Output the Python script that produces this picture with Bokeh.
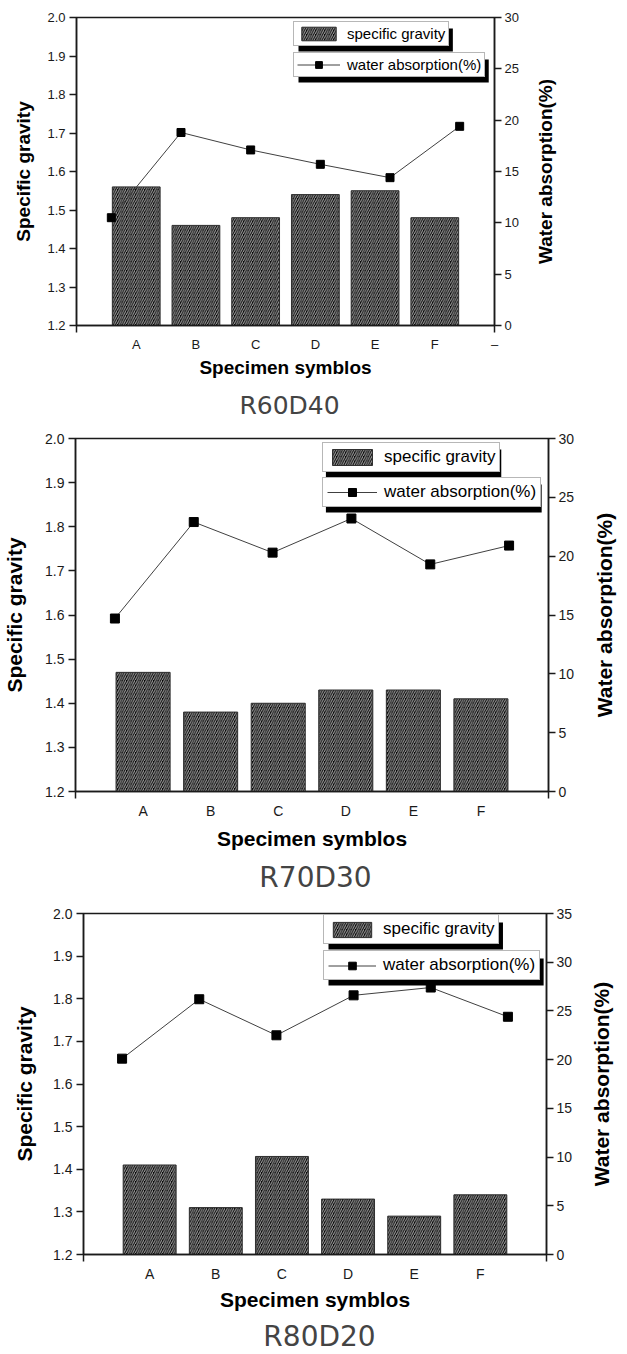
import math
from bokeh.plotting import figure
from bokeh.models import (Range1d, LinearAxis, FixedTicker, Legend, LegendItem, Label, BoxAnnotation)
from bokeh.layouts import column, row
from bokeh.embed import file_html
from bokeh.resources import INLINE

# ---------------- data ----------------
categories = ["A", "B", "C", "D", "E", "F"]
gravity_ticks = [1.2, 1.3, 1.4, 1.5, 1.6, 1.7, 1.8, 1.9, 2.0]
gravity_tick_labels = ["1.2", "1.3", "1.4", "1.5", "1.6", "1.7", "1.8", "1.9", "2.0"]
absorption_ticks_30 = [0, 5, 10, 15, 20, 25, 30]
absorption_ticks_35 = [0, 5, 10, 15, 20, 25, 30, 35]

r60d40_gravity = [1.56, 1.46, 1.48, 1.54, 1.55, 1.48]
r60d40_absorption = [10.5, 18.8, 17.1, 15.7, 14.4, 19.4]
r70d30_gravity = [1.47, 1.38, 1.40, 1.43, 1.43, 1.41]
r70d30_absorption = [14.7, 22.9, 20.3, 23.2, 19.3, 20.9]
r80d20_gravity = [1.41, 1.31, 1.43, 1.33, 1.29, 1.34]
r80d20_absorption = [20.1, 26.2, 22.5, 26.6, 27.4, 24.4]

panel_titles = ["R60D40", "R70D30", "R80D20"]
x_title = "Specimen symblos"
y_title = "Specific gravity"
y2_title = "Water absorption(%)"
legend_labels = ["specific gravity", "water absorption(%)"]
legend_label_em = [6.557, 8.949]   # text width in em (Liberation Sans) for shadow sizing
extra_end_label = "\u2013"

FONT = "Liberation Sans"
INK = "#1a1a1a"
TOTAL_W = 627


def blank_fig(width, height, top=0, bottom=0):
    f = figure(width=width, height=height, output_backend="svg", toolbar_location=None,
               x_range=Range1d(0, width), y_range=Range1d(0, height - top - bottom),
               x_axis_location=None, y_axis_location=None,
               min_border_left=0, min_border_right=0,
               min_border_top=top, min_border_bottom=bottom)
    f.grid.visible = False
    f.outline_line_color = None
    f.background_fill_color = "white"
    f.border_fill_color = "white"
    return f


def make_panel(name, gravity, absorption, wa_ticks, cfg, end_label=None):
    n = len(categories)
    pos = list(range(1, n + 1))
    W = cfg["w"]
    fw = W - cfg["l"] - cfg["r"]
    fh = cfg["h"] - cfg["t"] - cfg["b"]
    x0, x1 = 0, n + 1
    y0, y1 = gravity_ticks[0], gravity_ticks[-1]
    sx = (x1 - x0) / fw
    sy = (y1 - y0) / fh
    p = figure(width=W, height=cfg["h"], output_backend="svg", toolbar_location=None,
               x_range=Range1d(x0, x1), y_range=Range1d(y0, y1),
               min_border_left=cfg["l"], min_border_right=cfg["r"],
               min_border_top=cfg["t"], min_border_bottom=cfg["b"])
    p.extra_x_ranges = {"line": Range1d(0.5, n + 0.5)}
    p.extra_y_ranges = {"wa": Range1d(wa_ticks[0], wa_ticks[-1])}
    p.xgrid.visible = False
    p.ygrid.visible = False
    p.outline_line_color = INK
    p.outline_line_width = 1.5
    p.background_fill_color = "white"
    p.border_fill_color = "white"

    bars = p.vbar(x=pos, top=gravity, bottom=y0, width=0.8,
                  fill_color="#050505", line_color="#303030", line_width=1,
                  hatch_pattern="/", hatch_color="#a6a6a6", hatch_scale=4.5, hatch_weight=1)
    line = p.line(pos, absorption, x_range_name="line", y_range_name="wa",
                  line_color="#404040", line_width=1)
    marks = p.scatter(pos, absorption, x_range_name="line", y_range_name="wa",
                      marker="square", size=cfg["ms"], fill_color="black", line_color="black")

    # axes
    fs = cfg["tick_fs"]
    ax = p.xaxis[0]
    ticks = pos + ([n + 1] if end_label else [])
    overrides = {i: c for i, c in zip(pos, categories)}
    if end_label:
        overrides[n + 1] = end_label
    ax.ticker = FixedTicker(ticks=ticks, minor_ticks=[0, n + 1])
    ax.major_label_overrides = overrides
    ax.major_tick_line_color = None
    ax.major_tick_out = 7
    ax.major_tick_in = 0
    ax.minor_tick_out = 7
    ax.minor_tick_in = 0
    ax.major_label_standoff = 4
    ax.axis_label = x_title
    ax.axis_label_standoff = cfg["xls"]

    ay = p.yaxis[0]
    ay.ticker = FixedTicker(ticks=gravity_ticks, minor_ticks=[])
    ay.major_label_overrides = {t: l for t, l in zip(gravity_ticks, gravity_tick_labels)}
    ay.major_tick_out = 7
    ay.major_tick_in = 0
    ay.major_label_standoff = 4
    ay.axis_label = y_title
    ay.axis_label_standoff = cfg["yls"]

    ar = LinearAxis(y_range_name="wa", ticker=FixedTicker(ticks=wa_ticks, minor_ticks=[]))
    ar.major_tick_out = 7
    ar.major_tick_in = 0
    ar.major_label_standoff = 3
    p.add_layout(ar, "right")

    for a in (ax, ay, ar):
        a.axis_line_color = INK
        a.axis_line_width = 1.5
        a.major_tick_line_width = 1.5
        a.minor_tick_line_width = 1.5
        a.minor_tick_line_color = INK if a is ax else None
        if a is not ax:
            a.major_tick_line_color = INK
        a.major_label_text_font = FONT
        a.major_label_text_font_size = f"{fs}px"
        a.major_label_text_color = INK
        a.axis_label_text_font = FONT
        a.axis_label_text_font_style = "bold"
        a.axis_label_text_font_size = f"{cfg['lab_fs']}px"
        a.axis_label_text_color = "black"

    # legends: black drop-shadow boxes first, then the white legend boxes
    items = [[bars], [line, marks]]
    pad, gw, gh, sh, lfs = cfg["pad"], cfg["gw"], cfg["gh"], cfg["sh"], cfg["leg_fs"]
    for k in range(len(legend_labels)):
        lx, ly = cfg["leg"][k]
        w = 2 * pad + gw + 7 + legend_label_em[k] * lfs
        h = 2 * pad + gh
        p.add_layout(BoxAnnotation(left=x0 + (lx + sh) * sx, right=x0 + (lx + sh + w) * sx,
                                   bottom=y0 + (ly - sh) * sy, top=y0 + (ly - sh + h) * sy,
                                   fill_color="black", fill_alpha=1.0, line_color=None))
    for k, (lab, rends) in enumerate(zip(legend_labels, items)):
        lx, ly = cfg["leg"][k]
        lg = Legend(items=[LegendItem(label=lab, renderers=rends)],
                    location=(lx, ly),
                    padding=pad, spacing=0, margin=0,
                    glyph_width=gw, glyph_height=gh,
                    label_standoff=7, label_height=gh,
                    label_text_font=FONT, label_text_font_size=f"{lfs}px",
                    label_text_color="black",
                    border_line_color="#707070", border_line_width=1,
                    background_fill_color="white", background_fill_alpha=1.0)
        p.add_layout(lg, "center")

    # right-hand axis title, in a narrow strip beside the chart (reads bottom to top)
    side = blank_fig(TOTAL_W - W, cfg["h"], top=cfg["t"], bottom=cfg["b"])
    side.add_layout(Label(x=cfg["y2x"] - W, y=fh / 2, text=y2_title, angle=math.pi / 2,
                          text_align="center", text_baseline="middle",
                          text_font=FONT, text_font_style="bold",
                          text_font_size=f"{cfg['lab_fs']}px", text_color="black"))

    # panel caption strip below the chart
    cap = blank_fig(TOTAL_W, cfg["cap_h"])
    cap.add_layout(Label(x=cfg["cap_x"], y=cfg["cap_h"] - cfg["cap_y"], text=name,
                         text_align="center", text_baseline="middle",
                         text_font="DejaVu Sans", text_font_size=f"{cfg['cap_fs']}px",
                         text_color="#444444"))
    return column(row(p, side, spacing=0), row(cap), spacing=0)


# frame: P1 x 76..494, y 17..325 ; P2 x 72..548, y 438..791 ; P3 x 83..546, y 913..1254
cfg1 = dict(w=530, h=385, l=76, r=36, t=17, b=60, tick_fs=13, lab_fs=19, xls=2, yls=10,
            y2x=545, ms=8, leg=[(217, 279), (217, 248)], sh=5, pad=3, gw=43, gh=17, leg_fs=15,
            cap_h=43, cap_x=289, cap_y=20, cap_fs=25)
cfg2 = dict(w=582, h=425, l=72, r=34, t=10, b=62, tick_fs=14, lab_fs=21, xls=5, yls=16,
            y2x=604, ms=9, leg=[(247, 319), (247, 284)], sh=5, pad=4, gw=50, gh=20, leg_fs=17,
            cap_h=49, cap_x=315, cap_y=24, cap_fs=28)
cfg3 = dict(w=580, h=412, l=83, r=34, t=11, b=60, tick_fs=14, lab_fs=21, xls=3, yls=14,
            y2x=601, ms=9, leg=[(240, 310), (240, 274)], sh=5, pad=4, gw=48, gh=19, leg_fs=17,
            cap_h=40, cap_x=319, cap_y=22, cap_fs=28)

panel1 = make_panel(panel_titles[0], r60d40_gravity, r60d40_absorption, absorption_ticks_30, cfg1,
                    end_label=extra_end_label)
panel2 = make_panel(panel_titles[1], r70d30_gravity, r70d30_absorption, absorption_ticks_30, cfg2)
panel3 = make_panel(panel_titles[2], r80d20_gravity, r80d20_absorption, absorption_ticks_35, cfg3)

layout = column(panel1, panel2, panel3, spacing=0)
open("out.html", "w").write(file_html(layout, INLINE))
